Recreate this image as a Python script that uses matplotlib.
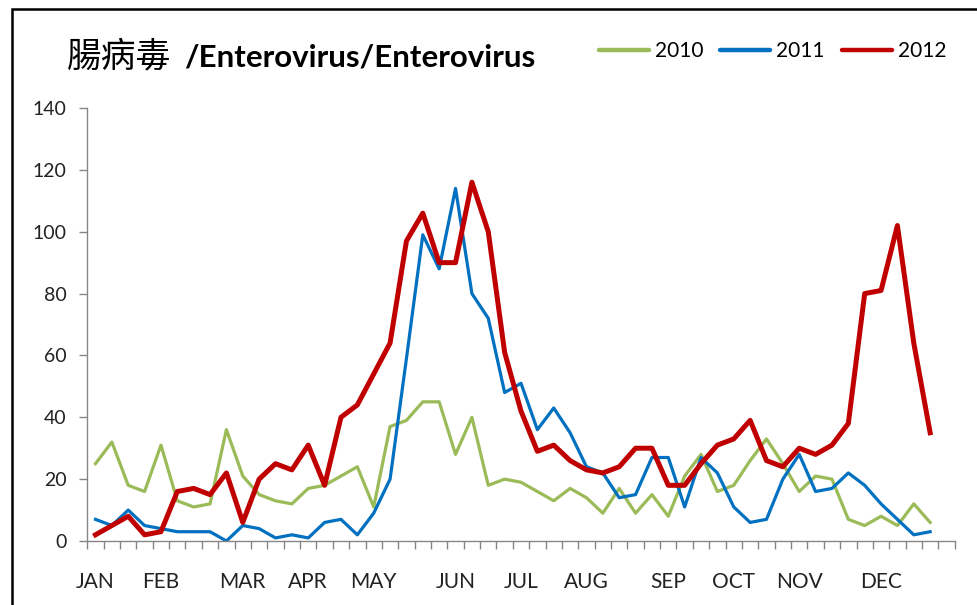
import numpy as np
import matplotlib
matplotlib.use("Agg")
import matplotlib.pyplot as plt
from matplotlib.patches import Rectangle

# weekly counts (52 weeks)
cases_2010 = [25, 32, 18, 16, 31, 13, 11, 12, 36, 21, 15, 13, 12, 17, 18, 21,
              24, 11, 37, 39, 45, 45, 28, 40, 18, 20, 19, 16, 13, 17, 14, 9,
              17, 9, 15, 8, 21, 28, 16, 18, 26, 33, 25, 16, 21, 20, 7, 5,
              8, 5, 12, 6]
cases_2011 = [7, 5, 10, 5, 4, 3, 3, 3, 0, 5, 4, 1, 2, 1, 6, 7,
              2, 9, 20, 59, 99, 88, 114, 80, 72, 48, 51, 36, 43, 35, 24, 22,
              14, 15, 27, 27, 11, 27, 22, 11, 6, 7, 20, 28, 16, 17, 22, 18,
              12, 7, 2, 3]
cases_2012 = [2, 5, 8, 2, 3, 16, 17, 15, 22, 6, 20, 25, 23, 31, 18, 40,
              44, 54, 64, 97, 106, 90, 90, 116, 100, 61, 42, 29, 31, 26, 23, 22,
              24, 30, 30, 18, 18, 25, 31, 33, 39, 26, 24, 30, 28, 31, 38, 80,
              81, 102, 64, 35]

years = ["2010", "2011", "2012"]
n_weeks = 53
month_labels = ["JAN", "FEB", "MAR", "APR", "MAY", "JUN",
                "JUL", "AUG", "SEP", "OCT", "NOV", "DEC"]
month_weeks = [0, 4, 9, 13, 17, 22, 26, 30, 35, 39, 43, 48]

fig = plt.figure(figsize=(9.78, 6.05), dpi=100)
ax = fig.add_axes([87.3 / 978, 64 / 605, 867.4 / 978, 433 / 605])

weeks = np.arange(len(cases_2012))
ax.plot(weeks, cases_2010, color="#9BBB59", lw=2.3, label=years[0],
        solid_joinstyle="round")
ax.plot(weeks, cases_2011, color="#0070C0", lw=2.3, label=years[1],
        solid_joinstyle="round")
ax.plot(weeks, cases_2012, color="#C00000", lw=3.6, label=years[2],
        solid_joinstyle="round")

ax.set_xlim(-0.5, n_weeks - 0.5)
ax.set_ylim(0, 140)

axis_grey = "#868686"
for side in ["top", "right"]:
    ax.spines[side].set_visible(False)
for side in ["left", "bottom"]:
    ax.spines[side].set_color(axis_grey)
    ax.spines[side].set_linewidth(1.0)

ax.set_yticks(np.arange(0, 141, 20))
ax.tick_params(axis="y", length=6, width=1.0, color=axis_grey, pad=9,
               labelsize=14, labelcolor="#222222")

ax.set_xticks(month_weeks)
ax.set_xticklabels(month_labels)
ax.set_xticks(np.arange(-0.5, n_weeks), minor=True)
ax.tick_params(axis="x", which="major", length=0, pad=22, labelsize=15,
               labelcolor="#222222")
ax.tick_params(axis="x", which="minor", length=6, width=1.0, color=axis_grey)

for lab in ax.get_xticklabels() + ax.get_yticklabels():
    lab.set_family("Lato")

# title: Chinese part and bold English part
fig.text(67 / 978, 1 - 57 / 605, "腸病毒", family="Noto Sans CJK TC",
         fontsize=25, va="center", ha="left")
fig.text(184 / 978, 1 - 58 / 605, "/Enterovirus/Enterovirus", family="Lato",
         weight="bold", fontsize=22.5, va="center", ha="left")

leg = fig.legend(loc="center left", bbox_to_anchor=(580 / 978, 1 - 51 / 605),
                 ncol=3, frameon=False, handlelength=2.4, handletextpad=0.3,
                 columnspacing=0.8, prop={"family": "Lato", "size": 15})
for line in leg.get_lines():
    line.set_linewidth(3.2)
    line.set_solid_capstyle("round")

# black frame around the chart area
fig.patches.append(Rectangle((12 / 978, -0.1), 1.2, 1.1 - 9 / 605,
                             transform=fig.transFigure, fill=False,
                             edgecolor="black", linewidth=1.8))

fig.savefig("out.png", dpi=100)
